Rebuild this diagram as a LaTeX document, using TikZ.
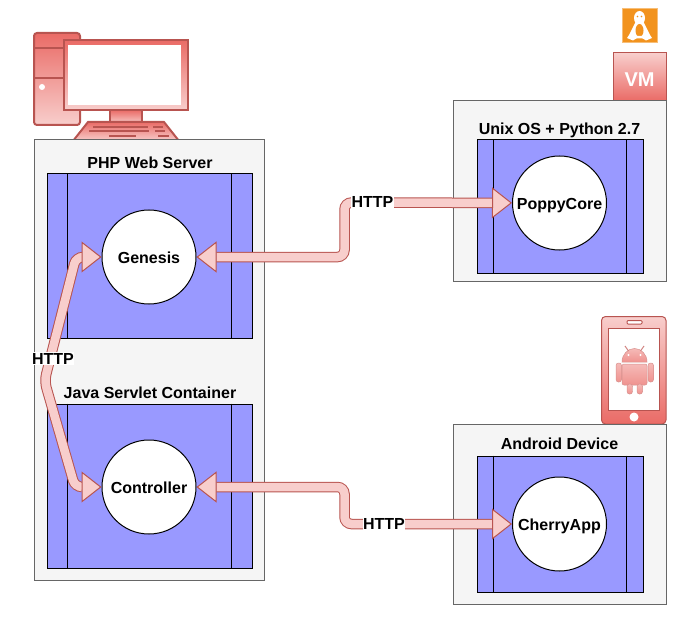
\documentclass[tikz,border=0pt]{standalone}
\usepackage{fontspec}
\setmainfont{Liberation Sans}
\usetikzlibrary{arrows.meta,calc}
\definecolor{boxgray}{HTML}{F5F5F5}
\definecolor{boxline}{HTML}{666666}
\definecolor{procblue}{HTML}{9999FF}
\definecolor{redline}{HTML}{B85450}
\definecolor{redlight}{HTML}{F8CECC}
\definecolor{reddark}{HTML}{EA6B66}
\definecolor{tuxorange}{HTML}{F2931E}
\tikzset{
	host/.style={rectangle, draw=boxline, fill=boxgray, line width=1pt, inner sep=0pt},
	proc/.style={rectangle, draw=black, fill=procblue, line width=1pt, inner sep=0pt},
	comp/.style={circle, draw=black, fill=white, line width=1pt, minimum size=94pt, inner sep=0pt, text height=13pt, text depth=0pt, font=\fontsize{16}{18}\selectfont\bfseries},
	boxtitle/.style={inner sep=1pt, text height=13pt, text depth=0pt, font=\fontsize{16}{18}\selectfont\bfseries},
	httplabel/.style={fill=white, inner sep=0.5pt, text height=11.5pt, text depth=0pt, font=\fontsize{16}{18}\selectfont\bfseries},
	flexarrow/.style={line width=1pt, draw=redline, double=redlight, double distance=8.5pt, rounded corners=7pt,
		{Triangle[length=20pt, width=31pt, fill=redlight, line width=1pt]}-{Triangle[length=20pt, width=31pt, fill=redlight, line width=1pt]}},
	icondown/.style={draw=redline, top color=reddark, bottom color=redlight},
	iconup/.style={draw=redline, top color=redlight, bottom color=reddark},
	robot/.style={draw=redline!50!redlight, line width=0.5pt, top color=redlight!80!reddark, bottom color=reddark!60!redlight}
}
\begin{document}
\begin{tikzpicture}[x=1pt, y=-1pt]
	\useasboundingbox (0,0) rectangle (684,620);
	% computer
	\draw[icondown, line width=2pt, rounded corners=3pt] (34,33) rectangle (80,125);
	\draw[redline, line width=2pt] (34,48) -- (66,48) (34,78) -- (66,78);
	\fill[white] (42,87) circle (3);
	\draw[icondown, line width=2pt] (110,110) rectangle (142,124);
	\draw[icondown, line width=2pt] (73,141) -- (88,122) -- (164,122) -- (179,141) -- cycle;
	\draw[redline, line width=2pt] (93,127) -- (148,127) (153,127) -- (163,127)
		  (89,131.5) -- (149,131.5) (155,131.5) -- (165,131.5)
		  (109,136) -- (136,136) (158,136) -- (169,136);
	\draw[icondown, line width=2.5pt] (64,40) rectangle (188,110);
	\fill[white] (68,45) rectangle (181,105);
	% linux
	\draw[draw=tuxorange!60!white, fill=tuxorange, line width=1pt] (622.5,8.5) rectangle (657.5,43);
	\fill[white] (639.5,18) ellipse (5.5 and 7);
	\fill[white] (635.5,22) -- (643.5,22) -- (650,35) -- (652,38) -- (646,40.5) -- (642,38) -- (637,38) -- (633,40.5) -- (627,38) -- (629,35) -- cycle;
	\fill[tuxorange] (639.5,30.5) ellipse (4 and 6.5);
	\fill[tuxorange] (637.5,16.5) circle (0.8) (641.5,16.5) circle (0.8);
	\fill[white] (634,36) -- (645,36) -- (643,38.5) -- (636,38.5) -- cycle;
	% vm
	\draw[iconup, line width=1pt] (613.5,53) rectangle (666,101);
	\node (vmlabel) at (639.5,80) [text=white, inner sep=0pt, font=\fontsize{20}{22}\selectfont\bfseries] {VM};
	% phone
	\draw[iconup, line width=1pt, rounded corners=4pt] (601.5,316.5) rectangle (666,424);
	\draw[draw=redline, fill=white, line width=1pt] (608.5,328.5) rectangle (659,410);
	\draw[draw=redline, fill=white, line width=1pt, rounded corners=1pt] (627,320.5) rectangle (642,324);
	\fill[white] (634,417) circle (4.5);
	% android
	\draw[robot] (622,362) arc[start angle=180, end angle=360, x radius=12.5, y radius=13.5] -- cycle;
	\draw[robot, rounded corners=2pt] (622,364) rectangle (647,385);
	\draw[robot, rounded corners=2.5pt] (616,363) rectangle (621.5,382);
	\draw[robot, rounded corners=2.5pt] (648,363) rectangle (653.5,382);
	\draw[robot, rounded corners=2.5pt] (627,384) rectangle (632.5,394);
	\draw[robot, rounded corners=2.5pt] (637,384) rectangle (642.5,394);
	\draw[redline!60!redlight, line width=1pt] (625,346) -- (628.5,351) (644,346) -- (640.5,351);
	\fill[white] (628.5,355) circle (1.2) (640.5,355) circle (1.2);
	% boxes
	\node (left) at (149,360) [host, minimum width=230pt, minimum height=440pt] {};
	\node (unix) at (559.5,191) [host, minimum width=213pt, minimum height=180pt] {};
	\node (android) at (559.5,514) [host, minimum width=213pt, minimum height=180pt] {};
	\node (web) at (149.5,256) [proc, minimum width=205pt, minimum height=164pt] {};
	\node (java) at (149.5,486) [proc, minimum width=205pt, minimum height=164pt] {};
	\node (core) at (560,206.5) [proc, minimum width=166pt, minimum height=133pt] {};
	\node (app) at (560,524) [proc, minimum width=166pt, minimum height=136pt] {};
	\foreach \inner/\gap in {web/21, java/21, core/17, app/17}{
		\draw[line width=1pt] ([xshift=\gap pt]\inner.north west) -- ([xshift=\gap pt]\inner.south west)
			  ([xshift=-\gap pt]\inner.north east) -- ([xshift=-\gap pt]\inner.south east);
	}
	\node (webtitle) at (150,162) [boxtitle] {PHP Web Server};
	\node (javatitle) at (150,392) [boxtitle] {Java Servlet Container};
	\node (unixtitle) at (559.5,128) [boxtitle] {Unix OS + Python 2.7};
	\node (androidtitle) at (559.5,443) [boxtitle] {Android Device};
	\node (genesis) at (149,257) [comp] {Genesis};
	\node (controller) at (149,487) [comp] {Controller};
	\node (poppycore) at (559.5,203) [comp] {PoppyCore};
	\node (cherryapp) at (559.5,524) [comp] {CherryApp};
	% connectors
	\coordinate (topa) at (344.5,257);
	\coordinate (topb) at (344.5,202.5);
	\coordinate (lowa) at (344.5,487);
	\coordinate (lowb) at (344.5,524);
	\coordinate (lefta) at (76,257);
	\coordinate (leftb) at (44.5,381);
	\coordinate (leftc) at (75,487);
	\draw[flexarrow] (genesis) -- (topa) -- (topb) -- (poppycore);
	\draw[flexarrow] (controller) -- (lowa) -- (lowb) -- (cherryapp);
	\draw[flexarrow] (genesis) -- (lefta) -- (leftb) -- (leftc) -- (controller);
	\node (httptop) at (372.5,201.5) [httplabel] {HTTP};
	\node (httplow) at (384,524) [httplabel] {HTTP};
	\node (httpleft) at (53,358.5) [httplabel] {HTTP};
\end{tikzpicture}
\end{document}
